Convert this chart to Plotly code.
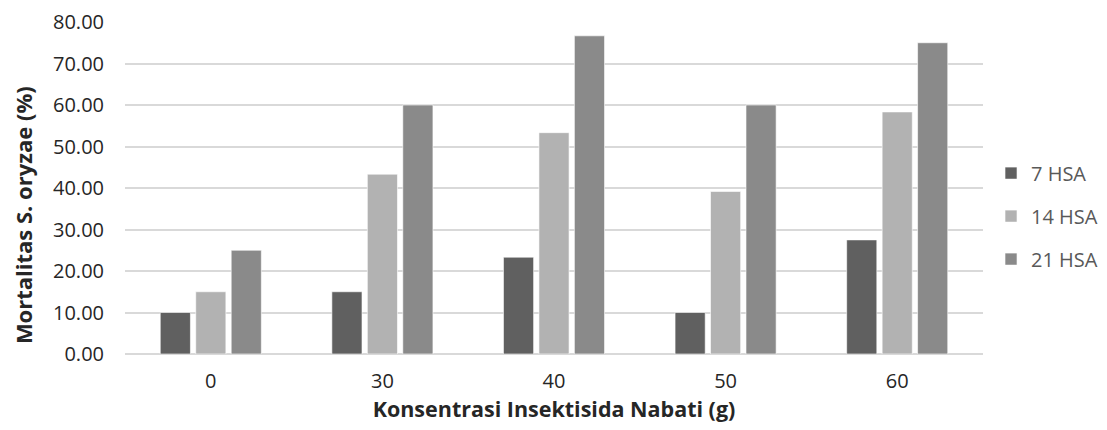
import plotly.graph_objects as go

categories = ["0", "30", "40", "50", "60"]
series_names = ["7 HSA", "14 HSA", "21 HSA"]
hsa7 = [10.00, 15.00, 23.33, 10.00, 27.50]
hsa14 = [15.00, 43.33, 53.33, 39.17, 58.33]
hsa21 = [25.00, 60.00, 76.67, 60.00, 75.00]
colors = ["#606060", "#b2b2b2", "#8a8a8a"]
y_ticks = [0, 10, 20, 30, 40, 50, 60, 70, 80]

FONT = "Open Sans, sans-serif"
TXT = "#262626"
LEG = "#595959"

fig = go.Figure()
for name, vals, col in zip(series_names, [hsa7, hsa14, hsa21], colors):
    fig.add_trace(go.Bar(
        x=categories, y=vals, name=name, legendgroup=name,
        marker=dict(color=col, line=dict(color="#ffffff", width=0.6)),
    ))

fig.update_layout(
    width=1107, height=430,
    margin=dict(l=117, r=132, t=13.5, b=84, autoexpand=False),
    paper_bgcolor="white", plot_bgcolor="white",
    barmode="group", bargap=0.38, bargroupgap=0.15,
    font=dict(family=FONT, size=20, color=TXT),
    legend=dict(xref="container", yref="container",
                x=0.888, xanchor="left", y=0.516, yanchor="middle",
                font=dict(size=20, color=LEG), tracegroupgap=14,
                itemwidth=30),
    showlegend=True,
    annotations=[dict(
        text="<b>Mortalitas S. oryzae (%)</b>", textangle=-90,
        xref="paper", yref="paper", x=-0.119, y=0.418,
        xanchor="center", yanchor="middle", showarrow=False,
        font=dict(size=22, color=TXT),
    )],
)
fig.update_xaxes(
    type="category", showgrid=False, showline=False, ticks="",
    automargin=False,
    tickfont=dict(size=20, color=TXT), ticklabelstandoff=13,
    title=dict(text="<b>Konsentrasi Insektisida Nabati (g)</b>", font=dict(size=21.5, color=TXT), standoff=5),
)
fig.update_yaxes(
    range=[0, 80], tickvals=y_ticks, ticktext=[f"{v:.2f}" for v in y_ticks],
    showgrid=True, gridcolor="#d9d9d9", gridwidth=1.5,
    zeroline=True, zerolinecolor="#d9d9d9", zerolinewidth=1.5,
    showline=False, ticks="", ticklen=0, automargin=False,
    tickfont=dict(size=20, color=TXT), ticklabelstandoff=20,
)

fig.write_html("out.html")
